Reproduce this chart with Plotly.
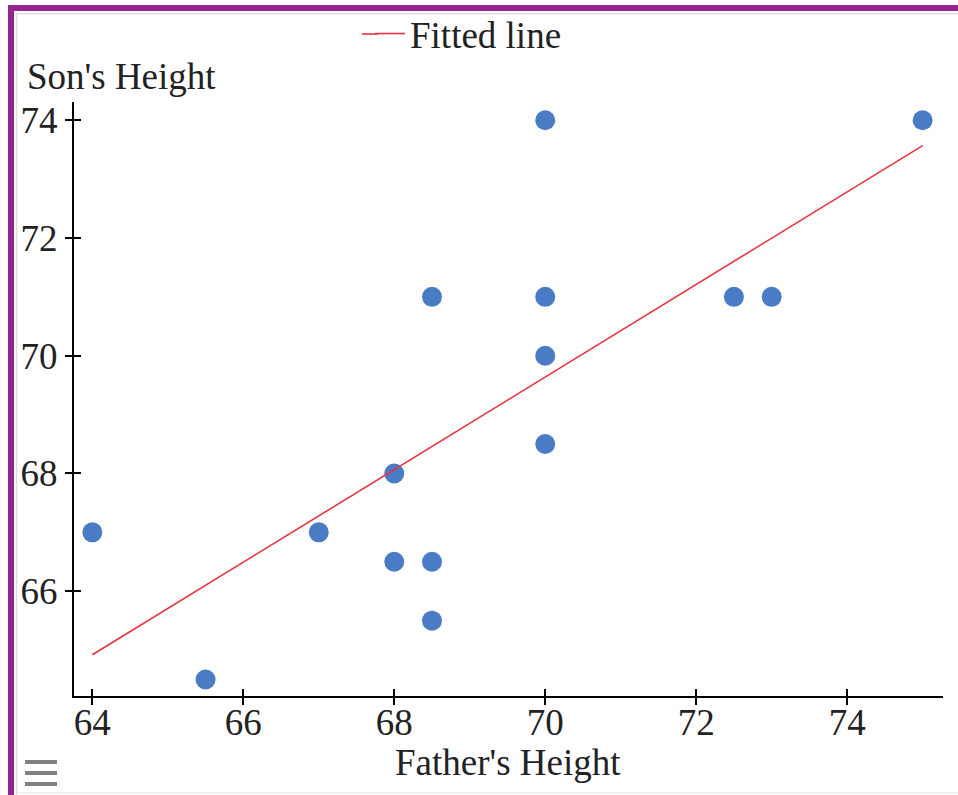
import plotly.graph_objects as go

# Data
father = [64, 65.5, 67, 68, 68, 68.5, 68.5, 68.5, 70, 70, 70, 70, 72.5, 73, 75]
son = [67, 64.5, 67, 68, 66.5, 66.5, 65.5, 71, 74, 71, 70, 68.5, 71, 71, 74]
fit_x = [64, 75]
fit_y = [64.92, 73.57]
x_ticks = [64, 66, 68, 70, 72, 74]
y_ticks = [66, 68, 70, 72, 74]

W, H = 958, 795
L, R, T, B = 74, 943, 102, 696  # plot area in pixels
xr = [63.757, 75.27]
yr = [64.22, 74.31]

def px(x):
    return (x - L) / (R - L)

def py(y):
    return (B - y) / (B - T)

FONT = "Liberation Serif, Times New Roman, serif"
FS = 37
RED = "#e8333f"

fig = go.Figure()
fig.add_trace(go.Scatter(x=father, y=son, mode="markers",
                         marker=dict(color="#4a7cc6", size=20),
                         showlegend=False, hoverinfo="x+y"))
fig.add_trace(go.Scatter(x=fit_x, y=fit_y, mode="lines",
                         line=dict(color=RED, width=1.6),
                         name="Fitted line"))

axis_common = dict(showgrid=False, zeroline=False, ticklen=7, tickwidth=1.5,
                   tickcolor="black", tickfont=dict(family=FONT, size=FS, color="#222"))

fig.update_layout(
    width=W, height=H,
    margin=dict(l=L, r=W - R, t=T, b=H - B, pad=0, autoexpand=False),
    paper_bgcolor="white", plot_bgcolor="white",
    font=dict(family=FONT, size=FS, color="#222"),
    xaxis=dict(range=xr, tickvals=x_ticks, ticks="outside", showline=True,
               linecolor="black", linewidth=2, ticklabelstandoff=-14, **axis_common),
    yaxis=dict(range=yr, tickvals=y_ticks, ticks="outside", showline=True,
               linecolor="black", linewidth=2, **axis_common),
    xaxis2=dict(range=xr, tickvals=x_ticks, ticks="inside", overlaying="x",
                showticklabels=False, showline=False, **axis_common),
    yaxis2=dict(range=yr, tickvals=y_ticks, ticks="inside", overlaying="y",
                showticklabels=False, showline=False, **axis_common),
    legend=dict(orientation="h", x=px(370), xanchor="left", y=py(34), yanchor="middle",
                font=dict(family=FONT, size=FS, color="#222"), bgcolor="rgba(0,0,0,0)"),
    showlegend=True,
)

# dummy trace to activate overlay axes
fig.add_trace(go.Scatter(x=[None], y=[None], xaxis="x2", yaxis="y2",
                         showlegend=False, hoverinfo="skip"))

fig.add_annotation(text="Son's Height", xref="paper", yref="paper",
                   x=px(25), y=py(77), xanchor="left", yanchor="middle",
                   showarrow=False, font=dict(family=FONT, size=FS, color="#222"))
fig.add_annotation(text="Father's Height", xref="paper", yref="paper",
                   x=px(508), y=py(762), xanchor="center", yanchor="middle",
                   showarrow=False, font=dict(family=FONT, size=FS, color="#222"))

shapes = []
# purple frame
shapes.append(dict(type="rect", xref="paper", yref="paper", x0=px(8), x1=px(W + 5),
                   y0=py(5), y1=py(11), fillcolor="#93278f", line=dict(width=0)))
shapes.append(dict(type="rect", xref="paper", yref="paper", x0=px(8), x1=px(14),
                   y0=py(5), y1=py(H + 5), fillcolor="#93278f", line=dict(width=0)))
# light inner lines
shapes.append(dict(type="line", xref="paper", yref="paper", x0=px(16.5), x1=px(16.5),
                   y0=py(13), y1=py(H), line=dict(color="#dddddd", width=1.5)))
shapes.append(dict(type="line", xref="paper", yref="paper", x0=px(16), x1=px(W),
                   y0=py(13.5), y1=py(13.5), line=dict(color="#dddddd", width=1.5)))
shapes.append(dict(type="line", xref="paper", yref="paper", x0=px(16), x1=px(W),
                   y0=py(793), y1=py(793), line=dict(color="#e6e6e6", width=1)))
# extend legend swatch to match the longer reference swatch
shapes.append(dict(type="line", xref="paper", yref="paper", x0=px(362), x1=px(378),
                   y0=py(34), y1=py(34), line=dict(color=RED, width=1.6)))
# hamburger icon
for yy in (762, 773, 784):
    shapes.append(dict(type="rect", xref="paper", yref="paper", x0=px(25), x1=px(57),
                       y0=py(yy - 2), y1=py(yy + 2), fillcolor="#808080", line=dict(width=0)))
fig.update_layout(shapes=shapes)

fig.write_html("out.html")
